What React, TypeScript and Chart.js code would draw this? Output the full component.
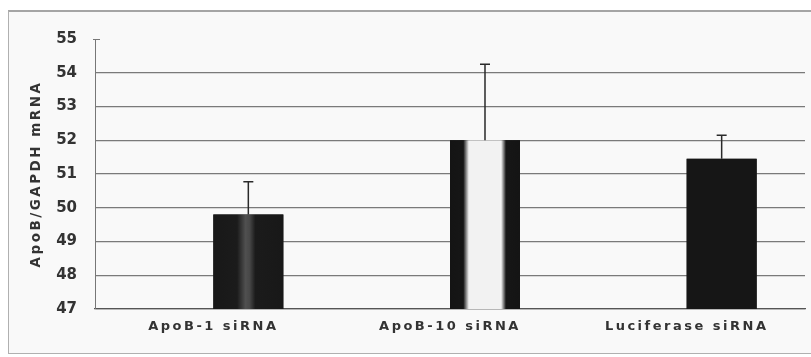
import React, { useEffect, useRef } from 'react';
import { Chart, registerables } from 'chart.js';

Chart.register(...registerables);

const categories = ['ApoB-1 siRNA', 'ApoB-10 siRNA', 'Luciferase siRNA'];
const spacerSeries = [null, null, null];
const meanValues = [49.8, 52.0, 51.45];
const errorValues = [0.97, 2.25, 0.7];
const yMin = 47;
const yMax = 55;
const yStep = 1;
const yTitle = 'ApoB/GAPDH mRNA';

// horizontal fill patterns of the bars (style only)
const barFills: [number, string][][] = [
  [[0, '#181818'], [0.34, '#1b1b1b'], [0.46, '#505050'], [0.52, '#474747'], [0.6, '#1b1b1b'], [1, '#181818']],
  [[0, '#141414'], [0.19, '#161616'], [0.27, '#f2f2f2'], [0.73, '#f2f2f2'], [0.8, '#161616'], [1, '#141414']],
  [[0, '#161616'], [1, '#161616']],
];

const FONT = '"DejaVu Sans", sans-serif';
const WIDE = '2.5px';

const spacingPlugin = {
  id: 'letterSpacing',
  beforeLayout(chart: any) {
    chart.ctx.letterSpacing = WIDE;
  },
  beforeDraw(chart: any) {
    chart.ctx.letterSpacing = WIDE;
  },
};

const barPlugin = {
  id: 'barDecor',
  afterDatasetsDraw(chart: any) {
    const ctx = chart.ctx;
    const meta = chart.getDatasetMeta(1);
    const yScale = chart.scales.y;
    const area = chart.chartArea;
    ctx.save();
    ctx.beginPath();
    ctx.rect(area.left, area.top - 10, area.right - area.left, area.bottom - area.top + 10);
    ctx.clip();
    meta.data.forEach((el: any, i: number) => {
      const { x, y, width } = el.getProps(['x', 'y', 'base', 'width'], true);
      const base = yScale.getPixelForValue(yMin);
      const left = x - width / 2;
      const g = ctx.createLinearGradient(left, 0, left + width, 0);
      barFills[i].forEach(([o, c]) => g.addColorStop(o, c));
      ctx.fillStyle = g;
      ctx.fillRect(left, y, width, base - y);
      const top = yScale.getPixelForValue(meanValues[i] + errorValues[i]);
      ctx.strokeStyle = '#2a2a2a';
      ctx.lineWidth = 1.5;
      ctx.beginPath();
      ctx.moveTo(x, y);
      ctx.lineTo(x, top);
      ctx.moveTo(x - 5, top);
      ctx.lineTo(x + 5, top);
      ctx.stroke();
    });
    ctx.restore();
    // small cap mark at the top of the value axis
    const yTop = yScale.getPixelForValue(yMax);
    ctx.save();
    ctx.strokeStyle = '#777';
    ctx.lineWidth = 1;
    ctx.beginPath();
    ctx.moveTo(area.left - 2, yTop + 0.5);
    ctx.lineTo(area.left + 5, yTop + 0.5);
    ctx.stroke();
    ctx.restore();
    // value-axis numbers (drawn after datasets) use normal spacing
    ctx.letterSpacing = '0px';
  },
};

export default function App() {
  const canvasRef = useRef<HTMLCanvasElement | null>(null);

  useEffect(() => {
    if (!canvasRef.current) return;
    const chart = new Chart(canvasRef.current, {
      type: 'bar',
      data: {
        labels: categories,
        datasets: [
          {
            data: spacerSeries as any,
            backgroundColor: 'transparent',
            categoryPercentage: 0.5915,
            barPercentage: 1,
          },
          {
            data: meanValues,
            backgroundColor: '#161616',
            borderWidth: 0,
            categoryPercentage: 0.5915,
            barPercentage: 1,
          },
        ],
      },
      options: {
        animation: false,
        responsive: true,
        maintainAspectRatio: false,
        layout: { padding: { top: 21, right: 6, left: 0, bottom: 0 } },
        plugins: {
          legend: { display: false },
          tooltip: { enabled: false },
        },
        scales: {
          x: {
            grid: { display: false, drawTicks: false },
            border: { display: true, color: '#555', width: 1.2 },
            ticks: {
              color: '#333',
              padding: 10,
              font: { family: FONT, size: 13, weight: 'bold' },
              maxRotation: 0,
              autoSkip: false,
            },
            afterFit(scale: any) {
              scale.height = 44;
            },
          },
          y: {
            min: yMin,
            max: yMax,
            grid: {
              drawTicks: false,
              color: (c: any) => (c.tick && c.tick.value === yMax ? 'transparent' : '#7a7a7a'),
              lineWidth: 1.2,
            },
            border: { display: true, color: '#777', width: 1 },
            ticks: {
              z: 1,
              stepSize: yStep,
              color: '#333',
              padding: 18,
              font: { family: FONT, size: 15, weight: 'bold' },
            },
            title: {
              display: true,
              text: yTitle,
              color: '#333',
              padding: { top: 19, bottom: 0 },
              font: { family: FONT, size: 13.5, weight: 'bold' },
            },
            afterFit(scale: any) {
              scale.width = 86;
            },
          },
        },
      },
      plugins: [spacingPlugin, barPlugin],
    });
    return () => chart.destroy();
  }, []);

  return (
    <div
      style={{
        position: 'absolute',
        left: 8,
        top: 10,
        width: 803,
        height: 344,
        boxSizing: 'border-box',
        borderTop: '2px solid #a5a5a5',
        borderLeft: '1px solid #b0b0b0',
        borderBottom: '1px solid #b0b0b0',
        background: '#f9f9f9',
      }}
    >
      <div style={{ position: 'relative', width: '100%', height: '100%' }}>
        <canvas ref={canvasRef} />
      </div>
    </div>
  );
}
